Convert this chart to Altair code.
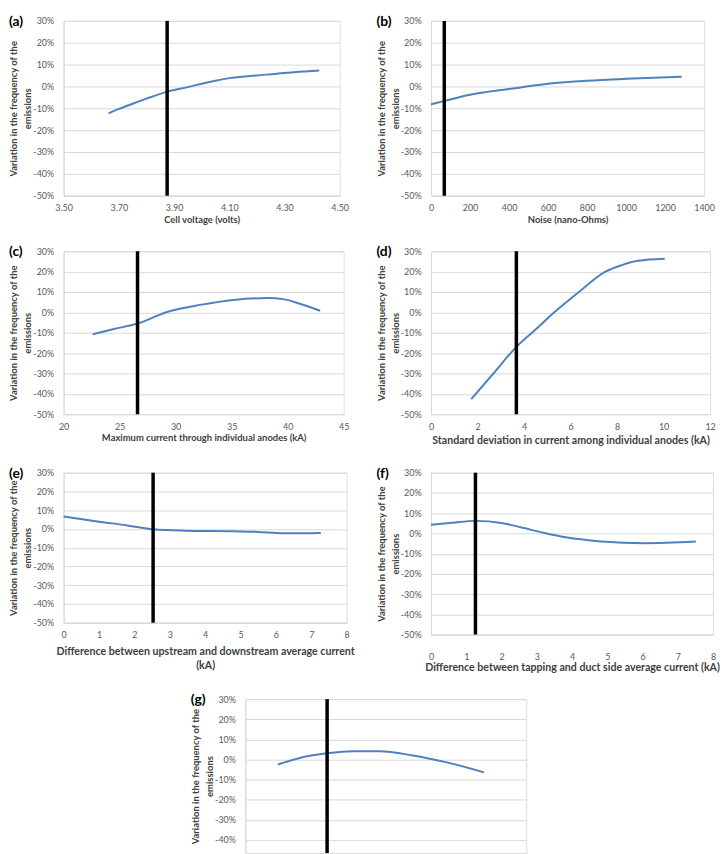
import altair as alt
import pandas as pd

FONT = "Lato"
BLUE = "#4f81bd"
GRID = "#d9d9d9"
LABEL_C = "#595959"
TITLE_C = "#404040"

Y_TITLE = ["Variation in the frequency of the", "emissions"]
Y_TICKS = [-50, -40, -30, -20, -10, 0, 10, 20, 30]

# (a) Cell voltage
a_x = [3.663, 3.70, 3.75, 3.80, 3.87, 3.95, 4.00, 4.05, 4.10, 4.20, 4.30, 4.426]
a_y = [-12.3, -10.3, -7.9, -5.6, -2.6, -0.3, 1.2, 2.6, 3.8, 5.0, 6.2, 7.3]
a_line = 3.875
a_ticks = [3.50, 3.70, 3.90, 4.10, 4.30, 4.50]

# (b) Noise
b_x = [0, 70, 200, 400, 600, 800, 1000, 1285]
b_y = [-8.2, -6.6, -3.8, -1.2, 1.2, 2.6, 3.5, 4.4]
b_line = 68
b_ticks = [0, 200, 400, 600, 800, 1000, 1200, 1400]

# (c) Maximum current
c_x = [22.6, 24.5, 26.6, 29.3, 32.3, 35.2, 38.2, 39.6, 41.1, 42.9]
c_y = [-10.8, -8.2, -5.5, 0.3, 3.8, 6.1, 7.0, 6.5, 4.2, 0.8]
c_line = 26.6
c_ticks = [20, 25, 30, 35, 40, 45]

# (d) Standard deviation
d_x = [1.73, 2.7, 3.65, 4.5, 5.3, 6.36, 7.5, 8.2, 8.9, 10.05]
d_y = [-42.6, -29.8, -17.2, -8.4, 0.0, 10.0, 20.0, 23.2, 25.3, 26.3]
d_line = 3.67
d_ticks = [0, 2, 4, 6, 8, 10, 12]

# (e) Upstream / downstream difference
e_x = [0, 1.0, 1.8, 2.53, 3.4, 4.8, 5.5, 6.2, 7.27]
e_y = [6.7, 3.9, 1.9, -0.2, -0.9, -1.2, -1.6, -2.3, -2.1]
e_line = 2.53
e_ticks = [0, 1, 2, 3, 4, 5, 6, 7, 8]

# (f) Tapping / duct side difference
f_x = [0, 0.6, 1.26, 2.0, 2.6, 3.2, 3.72, 4.3, 4.84, 6.06, 7.51]
f_y = [4.3, 5.3, 6.2, 5.2, 2.8, 0.3, -1.6, -3.0, -4.0, -4.8, -4.0]
f_line = 1.26
f_ticks = [0, 1, 2, 3, 4, 5, 6, 7, 8]

# (g) axis cut off in the original
g_x = [1.16, 2.0, 2.91, 3.83, 4.78, 5.96, 7.13, 8.49]
g_y = [-2.5, 1.0, 3.1, 4.1, 4.1, 2.0, -1.3, -6.4]
g_line = 2.91


def panel(xs, ys, xline, xdom, xticks, xfmt, xtitle, label, w, h,
          label_pad=8, title_pad=2, title_size=9.5, bottom=None, show_x=True,
          ydom=(-50, 30)):
    df = pd.DataFrame({"x": xs, "y": ys})
    xscale = alt.Scale(domain=xdom, nice=False, zero=False)
    yscale = alt.Scale(domain=list(ydom), nice=False, zero=False)
    if show_x:
        xaxis = alt.Axis(values=xticks, format=xfmt, title=xtitle, grid=False,
                         ticks=False, tickSize=0, labelPadding=label_pad,
                         domainColor=GRID, labelFont=FONT, labelFontSize=9,
                         labelColor=LABEL_C, labelFlush=False, titleFont=FONT,
                         titleFontSize=title_size, titleFontWeight="bold",
                         titleColor=TITLE_C, titlePadding=title_pad,
                         titleLineHeight=14)
    else:
        xaxis = alt.Axis(labels=False, ticks=False, tickSize=0, grid=False,
                         title=None, domain=False)
    yaxis = alt.Axis(values=Y_TICKS, labelExpr="datum.value + '%'", title=Y_TITLE,
                     grid=True, gridColor=GRID, ticks=False, tickSize=0,
                     labelPadding=10, domainColor=GRID, labelFont=FONT,
                     labelFontSize=9, labelColor=LABEL_C, titleFont=FONT,
                     titleFontSize=9.5, titleFontWeight="bold", titleColor=TITLE_C,
                     titlePadding=0, titleLineHeight=14)
    line = alt.Chart(df).mark_line(interpolate="monotone", color=BLUE, strokeWidth=2).encode(
        x=alt.X("x:Q", scale=xscale, axis=xaxis),
        y=alt.Y("y:Q", scale=yscale, axis=yaxis),
    )
    vline = alt.Chart(pd.DataFrame({"x": [xline]})).mark_rule(
        color="black", strokeWidth=3.5).encode(x=alt.X("x:Q", scale=xscale, axis=xaxis))
    lab = alt.Chart(pd.DataFrame({"t": [label]})).mark_text(
        align="left", baseline="middle", font=FONT, fontSize=14, fontWeight="bold",
        color="black").encode(x=alt.value(-55), y=alt.value(1), text="t:N")
    bot = bottom if bottom is not None else h
    anchor = alt.Chart(pd.DataFrame({"a": [0]})).mark_rule(
        strokeOpacity=0, color="white").encode(
        x=alt.value(-55), y=alt.value(-9), y2=alt.value(bot))
    return alt.layer(line, vline, lab, anchor).properties(width=w, height=h)


pa = panel(a_x, a_y, a_line, [3.5, 4.5], a_ticks, ".2f", "Cell voltage (volts)",
           "(a)", 278, 176, bottom=176 + 40)
pb = panel(b_x, b_y, b_line, [0, 1400], b_ticks, "d", "Noise (nano-Ohms)",
           "(b)", 275, 176, bottom=176 + 40)
pc = panel(c_x, c_y, c_line, [20, 45], c_ticks, "d",
           "Maximum current through individual anodes (kA)", "(c)", 282, 164,
           bottom=164 + 43)
pd_ = panel(d_x, d_y, d_line, [0, 12], d_ticks, "d",
            "Standard deviation in current among individual anodes (kA)", "(d)",
            281, 164, title_pad=5, title_size=10.7, bottom=164 + 43)
pe = panel(e_x, e_y, e_line, [0, 8], e_ticks, "d",
           ["Difference between upstream and downstream average current", "(kA)"],
           "(e)", 285, 151, title_pad=7, title_size=10.7)
pf = panel(f_x, f_y, f_line, [0, 8], f_ticks, "d",
           "Difference between tapping and duct side average current (kA)",
           "(f)", 284, 163, label_pad=18, title_pad=1, title_size=10.7,
           bottom=163 + 49)
pg = panel(g_x, g_y, g_line, [0, 10], None, "d", None, "(g)", 283, 155,
           show_x=False, ydom=(-46.5, 30))

spacer = alt.Chart(pd.DataFrame({"a": [0]})).mark_text(
    text=" ", opacity=0, fontSize=1).encode(
    x=alt.value(0), y=alt.value(0)).properties(
    width=1, height=1, view=alt.ViewBackground(stroke=None, fill=None))

row1 = alt.hconcat(pa, pb, spacing=92, bounds="flush")
row2 = alt.hconcat(pc, pd_, spacing=88, bounds="flush")
row3 = alt.hconcat(pe, pf, spacing=85, bounds="flush")
row4 = alt.hconcat(spacer, pg, spacing=182, bounds="flush")

chart = alt.vconcat(row1, row2, row3, row4, spacing=5).properties(
    padding=0, background="white"
).configure_view(stroke=None).configure(font=FONT)

chart.save("out.html", embed_options={"renderer": "svg", "actions": False})
